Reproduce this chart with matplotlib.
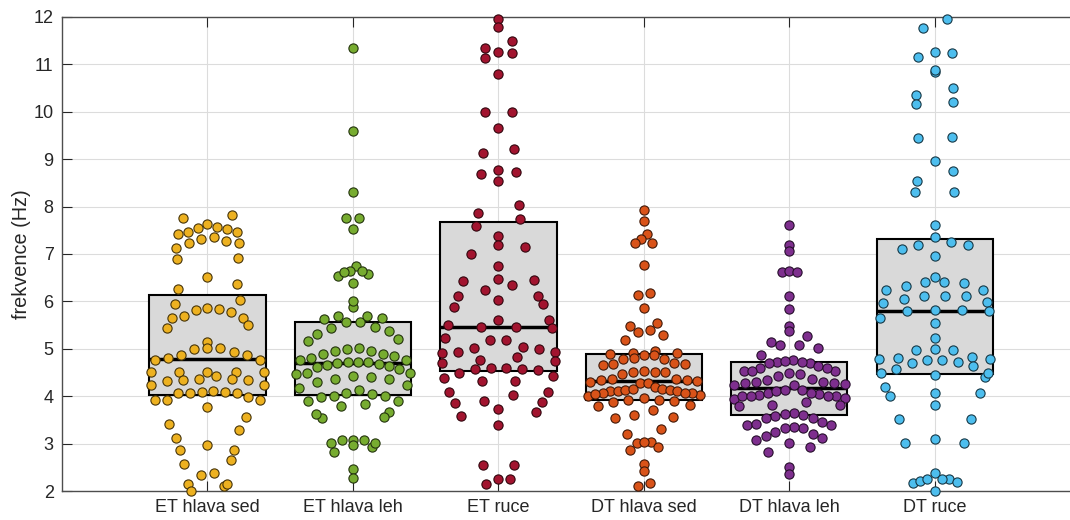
"""Swarm + box chart of tremor frequencies (ET vs DT groups). Headless (Agg)."""
import numpy as np
import matplotlib
matplotlib.use("Agg")
import matplotlib.pyplot as plt

categories = ["ET hlava sed", "ET hlava leh", "ET ruce",
              "DT hlava sed", "DT hlava leh", "DT ruce"]

et_hlava_sed = [
    7.82, 7.75, 7.52, 7.58, 7.63, 7.54, 7.42, 7.47, 7.47, 7.32, 7.35, 7.24, 7.13, 7.27, 7.24,
    6.90, 6.92, 6.51, 6.37, 6.27,
    6.02, 5.94, 5.86, 5.81, 5.85, 5.78, 5.64, 5.70, 5.64, 5.44, 5.50, 5.15, 4.99, 5.02,
    5.01, 4.93, 4.81, 4.87, 4.87, 4.77, 4.77,
    4.42, 4.51, 4.52, 4.52, 4.51, 4.51, 4.23, 4.32, 4.35, 4.37, 4.37, 4.34, 4.23, 4.07,
    4.08, 4.09, 4.10, 4.07, 4.07, 3.93, 3.99, 3.93, 3.91,
    3.77, 3.56, 3.28, 3.42, 3.12, 2.87, 2.97, 2.87, 2.57, 2.66, 2.37, 2.34, 2.10, 2.15,
    2.15, 2.00]

et_hlava_leh = [
    11.34, 9.59, 8.31, 7.76, 7.76, 7.52,
    6.75, 6.58, 6.64, 6.65, 6.54, 6.62, 6.38, 5.89, 6.01, 5.57, 5.65, 5.69, 5.69, 5.63,
    5.56, 5.46, 5.32, 5.44, 5.38, 5.17, 5.20,
    4.76, 4.80, 4.88, 4.96, 5.00, 5.01, 4.96, 4.88, 4.85, 4.76, 4.61, 4.65, 4.69, 4.72,
    4.73, 4.72, 4.68, 4.63, 4.58, 4.49, 4.42, 4.37, 4.37, 4.41, 4.46, 4.48,
    4.13, 4.23, 4.30, 4.18, 4.01, 4.04, 3.99, 4.06, 4.01, 3.90, 3.90, 3.84, 3.80,
    3.67, 3.54, 3.62, 3.56, 2.92, 3.01, 3.08, 3.08, 3.08, 3.02, 2.96, 2.82, 2.47, 2.27]

et_ruce = [
    11.96, 11.79, 11.49, 11.34, 11.24, 11.27, 11.13, 10.79, 9.99, 9.99, 9.65, 9.14, 9.21,
    8.72, 8.77, 8.68, 8.53, 8.03, 7.87, 7.74, 7.60, 7.37, 7.15, 7.18, 6.99,
    6.75, 6.44, 6.48, 6.46, 6.35, 6.25, 6.12, 5.94, 6.12, 6.03, 5.89, 5.61, 5.61,
    5.44, 5.46, 5.51, 5.46, 5.18, 5.22, 5.18, 5.02, 4.94, 4.92, 4.77, 4.71,
    5.04, 5.00, 4.94, 4.83, 4.75, 4.48, 4.58, 4.60, 4.60, 4.58, 4.55,
    4.32, 4.39, 4.42, 4.32, 4.02, 4.08, 4.08, 3.87, 3.73, 3.58, 3.89, 3.86, 3.67,
    3.39, 2.54, 2.54, 2.25, 2.15, 2.25]

dt_hlava_sed = [
    7.93, 7.69, 7.42, 7.31, 7.24, 7.24, 6.77, 6.14, 6.17, 5.87, 5.55, 5.49, 5.39,
    5.30, 5.35, 5.18,
    4.95, 4.86, 4.92, 4.92, 4.89, 4.86, 4.81, 4.79, 4.79, 4.69, 4.67, 4.68, 4.66,
    4.47, 4.51, 4.54, 4.52, 4.51,
    4.28, 4.31, 4.34, 4.36, 4.37, 4.35, 4.32, 4.28, 4.20, 4.15, 4.13, 4.12, 4.11,
    4.12, 4.14, 4.16, 4.00, 4.03, 4.06, 4.07, 4.06, 4.04, 3.96, 3.92, 3.88, 3.82,
    3.89, 3.93, 3.79, 3.70, 3.60, 3.55, 3.56, 3.31, 3.20, 3.01, 3.04, 3.04, 2.86,
    2.92, 2.58, 2.43, 2.11, 2.17]

dt_hlava_leh = [
    7.61, 7.20, 7.06, 6.62, 6.64, 6.62, 6.11, 5.83, 5.48, 5.28, 5.37, 5.09, 5.15,
    5.02, 5.07, 4.87,
    4.70, 4.73, 4.77, 4.69, 4.63, 4.75, 4.73, 4.47, 4.54, 4.54, 4.59, 4.59, 4.54,
    4.48, 4.37, 4.42, 4.35, 4.23, 4.26, 4.28, 4.30, 4.30, 4.27, 4.24,
    3.95, 4.00, 4.02, 4.05, 4.07, 4.12, 4.14, 4.14, 4.07, 4.01, 4.01, 4.01, 3.97,
    3.79, 3.82, 3.88, 3.82, 3.60, 3.65, 3.63, 3.54, 3.58, 3.53,
    3.45, 3.32, 3.35, 3.39, 3.42, 3.39, 3.32, 3.25, 3.20, 3.01, 3.11, 3.15, 3.08,
    2.83, 2.92, 2.50, 2.35]

dt_ruce = [
    11.96, 11.76, 11.26, 11.15, 11.23, 10.85, 10.88, 10.51, 10.35, 10.16, 10.20,
    9.47, 9.45, 8.96, 8.76, 8.54, 8.31, 8.31, 7.62, 7.35, 7.11, 7.19, 7.25, 7.19, 6.96,
    6.40, 6.51, 6.38, 6.40, 5.97, 6.05, 6.12, 6.23, 6.33, 6.25, 6.11, 6.12, 5.99,
    5.80, 5.82, 5.82, 5.80, 5.64, 5.54, 5.22, 4.97, 4.99, 4.97,
    4.71, 4.76, 4.78, 4.80, 4.82, 4.78, 4.76, 4.73, 4.57, 4.63,
    4.41, 4.48, 4.48, 4.45, 4.00, 4.06, 4.20, 4.06, 3.81, 3.51, 3.51,
    3.02, 3.10, 3.02, 2.37, 2.17, 2.21, 2.25, 2.25, 2.25, 2.20, 2.01]

groups = [et_hlava_sed, et_hlava_leh, et_ruce, dt_hlava_sed, dt_hlava_leh, dt_ruce]

# box: lower quartile, median, upper quartile
box_q1 = [4.03, 4.02, 4.53, 3.92, 3.60, 4.47]
box_med = [4.78, 4.70, 5.47, 4.32, 4.17, 5.80]
box_q3 = [6.13, 5.56, 7.67, 4.90, 4.72, 7.31]

colors = ["#EDB120", "#77AC30", "#A2142F", "#D95319", "#7E2F8E", "#4DBEEE"]

W, H, DPI = 10.7, 5.2, 100
AX_RECT = [62 / 1070, 1 - 491 / 520, 1 - 62 / 1070, (491 - 17) / 520]
XLIM = (0, 6.93)
YLIM = (2, 12)
BOX_W = 0.8


def density_swarm(vals, half_width=0.39, bin_h=0.29):
    """Density jitter: bin y, spread each bin over a KDE-scaled width,
    highest value in the middle of the row (gives the arched rows)."""
    y = np.asarray(vals, dtype=float)
    n = len(y)
    sig = np.median(np.abs(y - np.median(y))) / 0.6745
    bw = sig * (4 / (3 * n)) ** 0.2
    kde = lambda t: np.exp(-0.5 * ((t - y[:, None]) / bw) ** 2).sum(axis=0)
    grid = np.linspace(y.min(), y.max(), 400)
    kmax = kde(grid).max()
    edges = np.arange(y.min() - bin_h / 2, y.max() + bin_h, bin_h)
    idx = np.digitize(y, edges)
    xs = np.zeros(n)
    for b in np.unique(idx):
        members = np.nonzero(idx == b)[0]
        members = members[np.argsort(y[members], kind="stable")]
        m = len(members)
        if m == 1:
            continue
        w = half_width * kde(np.array([y[members].mean()]))[0] / kmax
        slots = np.linspace(-w, w, m)
        order = []
        lo, hi = 0, m - 1
        while lo <= hi:
            order.append(lo)
            if hi != lo:
                order.append(hi)
            lo += 1
            hi -= 1
        xs[members] = slots[order]
    return xs


plt.rcParams["font.family"] = ["Liberation Sans", "DejaVu Sans"]
fig = plt.figure(figsize=(W, H), dpi=DPI)
ax = fig.add_axes(AX_RECT)
ax.set_xlim(*XLIM)
ax.set_ylim(*YLIM)

pos = np.arange(1, len(categories) + 1)
ax.bar(pos, np.subtract(box_q3, box_q1), bottom=box_q1, width=BOX_W,
       color="#d9d9d9", edgecolor="black", linewidth=1.5, zorder=2)
ax.hlines(box_med, pos - BOX_W / 2, pos + BOX_W / 2, colors="black", lw=2.5, zorder=3)

for k, (vals, c) in enumerate(zip(groups, colors)):
    off = density_swarm(vals)
    rgb = np.array(matplotlib.colors.to_rgb(c))
    ax.scatter(pos[k] + off, vals, s=44, color=c, edgecolor=rgb * 0.3,
               linewidth=0.8, zorder=4, clip_on=False)

ax.set_xticks(pos)
ax.set_xticklabels(categories)
ax.set_yticks(np.arange(2, 13, 1))
ax.set_ylabel("frekvence (Hz)", fontsize=14.3, color="#262626", labelpad=2)
ax.grid(True, color="#dcdcdc", lw=0.8, zorder=0)
ax.set_axisbelow(True)
ax.tick_params(direction="in", length=7, width=0.8, color="#262626",
               labelsize=13, labelcolor="#262626", top=True)
ax.tick_params(axis="x", pad=6)
ax.tick_params(axis="y", pad=6)
for s in ("left", "bottom", "top"):
    ax.spines[s].set_color("#4d4d4d")
    ax.spines[s].set_linewidth(1.0)
ax.spines["right"].set_visible(False)

fig.savefig("out.png", dpi=DPI)
